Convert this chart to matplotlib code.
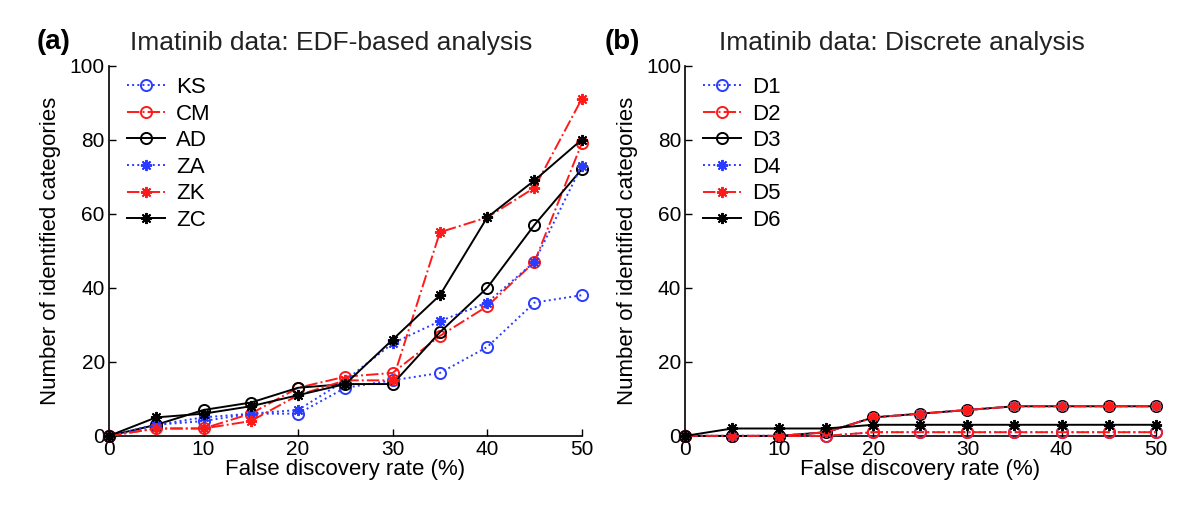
import matplotlib
matplotlib.use("Agg")

import matplotlib.pyplot as plt

plt.rcParams["font.family"] = ["Liberation Sans", "DejaVu Sans"]

# ── data ─────────────────────────────────────────────────────────────────────
fdr = [0, 5, 10, 15, 20, 25, 30, 35, 40, 45, 50]

ks = [0, 3, 4, 6, 6, 13, 15, 17, 24, 36, 38]
cm = [0, 2, 2, 6, 13, 16, 17, 27, 35, 47, 79]
ad = [0, 3, 7, 9, 13, 14, 14, 28, 40, 57, 72]
za = [0, 3, 5, 6, 7, 15, 25, 31, 36, 47, 73]
zk = [0, 2, 2, 4, 11, 15, 15, 55, 59, 67, 91]
zc = [0, 5, 6, 8, 11, 14, 26, 38, 59, 69, 80]

d1 = [0, 0, 0, 0, 1, 1, 1, 1, 1, 1, 1]
d2 = [0, 0, 0, 0, 1, 1, 1, 1, 1, 1, 1]
d3 = [0, 0, 0, 1, 5, 6, 7, 8, 8, 8, 8]
d4 = [0, 0, 0, 1, 5, 6, 7, 8, 8, 8, 8]
d5 = [0, 0, 0, 1, 5, 6, 7, 8, 8, 8, 8]
d6 = [0, 2, 2, 2, 3, 3, 3, 3, 3, 3, 3]

left_series = [("KS", ks), ("CM", cm), ("AD", ad), ("ZA", za), ("ZK", zk), ("ZC", zc)]
right_series = [("D1", d1), ("D2", d2), ("D3", d3), ("D4", d4), ("D5", d5), ("D6", d6)]

BLUE = "#2a3cff"
RED = "#ff1a1a"
STAR = (8, 2, 0)
# (colour, linestyle, marker) in plotting order, shared by both panels
styles = [
    (BLUE, ":", "o"),
    (RED, "-.", "o"),
    ("black", "-", "o"),
    (BLUE, ":", STAR),
    (RED, "-.", STAR),
    ("black", "-", STAR),
]

fig = plt.figure(figsize=(12, 5.29), dpi=100)
ax_a = fig.add_axes([0.0908, 0.176, 0.394, 0.700])
ax_b = fig.add_axes([0.571, 0.176, 0.392, 0.700])


def draw_panel(ax, series, title, tag, title_x, tag_x):
    for (name, vals), (col, ls, mk) in zip(series, styles):
        ax.plot(fdr, vals, color=col, linestyle=ls, marker=mk, markersize=8,
                markerfacecolor="none", markeredgecolor=col, markeredgewidth=1.4,
                linewidth=1.4, label=name, clip_on=False, zorder=3)
    ax.set_xlim(0, 50)
    ax.set_ylim(0, 100)
    ax.set_xticks(range(0, 51, 10))
    ax.set_yticks(range(0, 101, 20))
    ax.tick_params(direction="in", length=5, width=1, labelsize=15, pad=3)
    for s in ["top", "right"]:
        ax.spines[s].set_visible(False)
    for s in ["left", "bottom"]:
        ax.spines[s].set_linewidth(1.2)
    ax.set_xlabel("False discovery rate (%)", fontsize=16, labelpad=0)
    ax.set_ylabel("Number of identified categories", fontsize=16, labelpad=6)
    ax.set_title(title, fontsize=19, color="#222222", pad=11, x=title_x)
    ax.text(tag_x, 1.065, tag, transform=ax.transAxes, fontsize=20,
            fontweight="bold", ha="left", va="center")
    ax.legend(loc="upper left", bbox_to_anchor=(0.01, 1.005), frameon=False,
              fontsize=16, handlelength=1.7, labelspacing=0.25,
              handletextpad=0.5, borderaxespad=0.2)


draw_panel(ax_a, left_series, "Imatinib data: EDF-based analysis", "(a)", 0.47, -0.152)
draw_panel(ax_b, right_series, "Imatinib data: Discrete analysis", "(b)", 0.46, -0.172)

fig.savefig("out.png", dpi=100)
